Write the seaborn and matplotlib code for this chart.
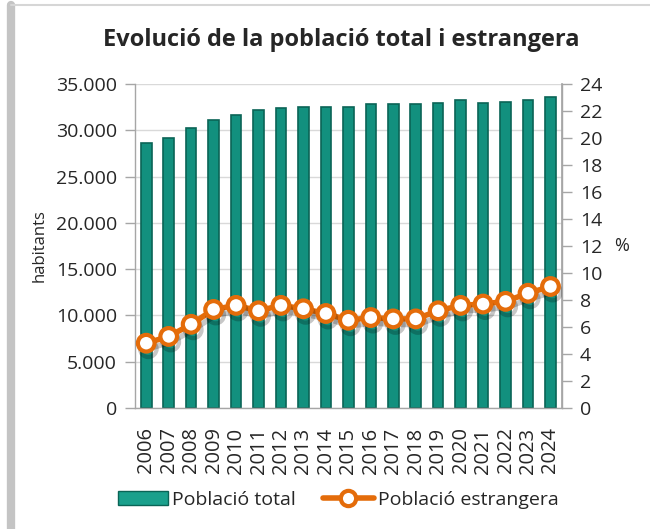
import matplotlib
matplotlib.use("Agg")
import matplotlib.pyplot as plt
import matplotlib.patheffects as pe
from matplotlib.ticker import FuncFormatter, MultipleLocator
from matplotlib.lines import Line2D
from matplotlib.patches import Patch
import seaborn as sns
import numpy as np
import pandas as pd

# dades llegides del gràfic
anys = [str(a) for a in range(2006, 2025)]
poblacio_total = [28600, 29200, 30300, 31100, 31700, 32200, 32400, 32550, 32550, 32500,
                  32800, 32850, 32800, 33000, 33300, 33000, 33100, 33300, 33600]
pct_estrangera = [4.8, 5.3, 6.2, 7.3, 7.6, 7.2, 7.6, 7.35, 7.0, 6.5,
                  6.7, 6.6, 6.6, 7.2, 7.6, 7.7, 7.9, 8.5, 9.0]

teal = "#12907e"
taronja = "#e46c0a"
gris = "#a6a6a6"
txt = "#262626"

sns.set_theme(style="white")
plt.rcParams["font.family"] = ["Open Sans", "DejaVu Sans"]

df = pd.DataFrame({"any": anys, "total": poblacio_total, "pct": pct_estrangera})

fig = plt.figure(figsize=(6.5, 5.29), dpi=100)
ax = fig.add_axes([135 / 650, 1 - 408 / 529, (561.7 - 135) / 650, (408 - 84) / 529])

sns.barplot(data=df, x="any", y="total", color=teal, width=0.47, saturation=1,
            edgecolor="#0a6456", linewidth=1.2, ax=ax)
ax.set_ylim(0, 35000)
ax.set_xlim(-0.5, len(anys) - 0.5)
ax.yaxis.set_major_locator(MultipleLocator(5000))
ax.yaxis.set_major_formatter(FuncFormatter(lambda v, p: f"{int(v):,}".replace(",", ".")))
ax.grid(axis="y", color="#d9d9d9", linewidth=1.0)
ax.set_axisbelow(True)
ax.set_xlabel("")
ax.set_ylabel("habitants", fontsize=12, color=txt, labelpad=6)

ax.set_xticks(np.arange(len(anys)))
ax.set_xticklabels(anys, rotation=90, fontsize=14.5, color=txt)
ax.set_xticks(np.arange(len(anys) + 1) - 0.5, minor=True)
ax.tick_params(axis="x", which="major", length=0, pad=14)
ax.tick_params(axis="x", which="minor", length=10, direction="inout", color=gris, width=1)
ax.tick_params(axis="y", labelsize=14, labelcolor=txt, length=7, direction="out",
               color=gris, width=1, pad=6)
ax.tick_params(left=True)

ax.spines["top"].set_visible(False)
for s in ["left", "bottom", "right"]:
    ax.spines[s].set_color(gris)
    ax.spines[s].set_linewidth(1.0)

ax2 = ax.twinx()
sns.lineplot(x=np.arange(len(anys)), y=df["pct"], ax=ax2, color=taronja, linewidth=4,
             marker="o", markersize=12, markerfacecolor="white", markeredgecolor=taronja,
             markeredgewidth=3, zorder=5,
             path_effects=[pe.SimpleLineShadow(offset=(1.5, -4), shadow_color="black", alpha=0.22),
                           pe.Normal()])
ax2.set_ylim(0, 24)
ax2.yaxis.set_major_locator(MultipleLocator(2))
ax2.set_ylabel("%", rotation=0, fontsize=13, color=txt, labelpad=14, va="center")
ax2.tick_params(axis="y", labelsize=14, labelcolor=txt, length=7, direction="out",
                color=gris, width=1, pad=6)
ax2.tick_params(right=True)
ax2.grid(False)
for s in ["top", "left", "bottom"]:
    ax2.spines[s].set_visible(False)
ax2.spines["right"].set_color(gris)
ax2.set_xlim(-0.5, len(anys) - 0.5)

fig.text(341 / 650, 1 - 40 / 529, "Evolució de la població total i estrangera",
         ha="center", va="center", fontsize=17, fontweight="bold", color=txt)

handles = [Patch(facecolor="#1aa08c", edgecolor="#0a6456", linewidth=1),
           Line2D([0], [0], color=taronja, linewidth=4, marker="o", markersize=11,
                  markerfacecolor="white", markeredgecolor=taronja, markeredgewidth=3)]
fig.legend(handles, ["Població total", "Població estrangera"], loc="center",
           bbox_to_anchor=(338 / 650, 1 - 500 / 529), ncol=2, frameon=False,
           fontsize=14, handlelength=2.6, handleheight=0.7, columnspacing=1.4,
           handletextpad=0.2, labelcolor=txt)

# marc del gràfic
fig.add_artist(Line2D([11 / 650, 11 / 650], [0, 1 - 5 / 529], transform=fig.transFigure,
                      color="#c4c4c4", linewidth=6))
fig.add_artist(Line2D([11 / 650, 1], [1 - 5 / 529, 1 - 5 / 529], transform=fig.transFigure,
                      color="#d6d6d6", linewidth=1.5))

fig.savefig("out.png", dpi=100)
